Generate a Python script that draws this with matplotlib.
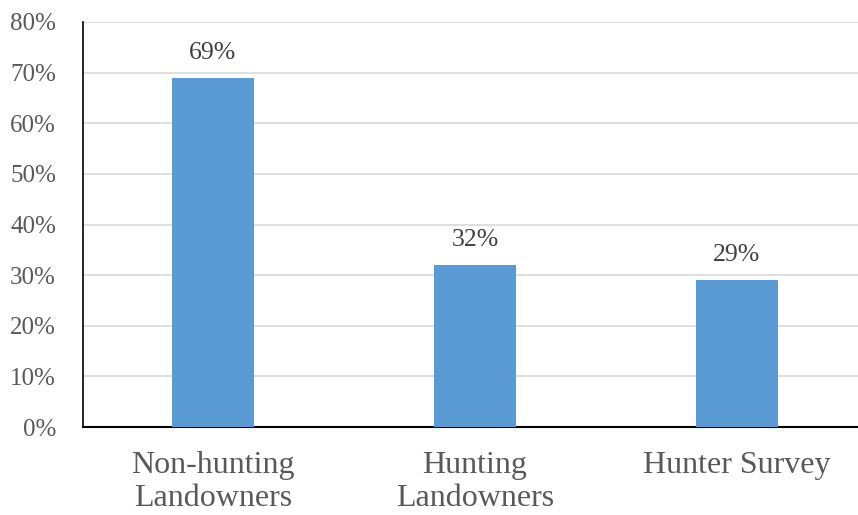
import matplotlib.pyplot as plt
from matplotlib.ticker import PercentFormatter

categories = ['Non-hunting\nLandowners', 'Hunting\nLandowners', 'Hunter Survey']
values = [69, 32, 29]
yticks = [0, 10, 20, 30, 40, 50, 60, 70, 80]

plt.rcParams['font.family'] = ['Liberation Serif', 'DejaVu Serif']

fig = plt.figure(figsize=(8.58, 5.15), dpi=100)
ax = fig.add_axes([83 / 858, 1 - 427 / 515, 775 / 858, 405 / 515])

x = list(range(len(categories)))
bars = ax.bar(x, values, width=0.313, color='#5B9BD5', zorder=3)

ax.set_ylim(0, 80)
ax.set_xlim(-0.496, 2.462)
ax.set_yticks(yticks)
ax.yaxis.set_major_formatter(PercentFormatter(decimals=0))
ax.grid(axis='y', color='#D9D9D9', linewidth=1.2, zorder=0)

ax.set_xticks(x)
ax.set_xticklabels(categories, fontsize=23, color='#595959', linespacing=1.18)
ax.tick_params(axis='x', length=0, pad=17.5)
ax.tick_params(axis='y', length=0, labelsize=18, labelcolor='#595959', pad=19.5)

for s in ['top', 'right']:
    ax.spines[s].set_visible(False)
ax.spines['left'].set_color('black')
ax.spines['bottom'].set_color('black')
ax.spines['left'].set_linewidth(1.2)
ax.spines['bottom'].set_linewidth(1.5)

for b, v in zip(bars, values):
    ax.annotate(f'{v}%', (b.get_x() + b.get_width() / 2, v), xytext=(0, 10),
                textcoords='offset points', ha='center', va='bottom',
                fontsize=18.5, color='#404040')

fig.savefig('out.png', dpi=100)
